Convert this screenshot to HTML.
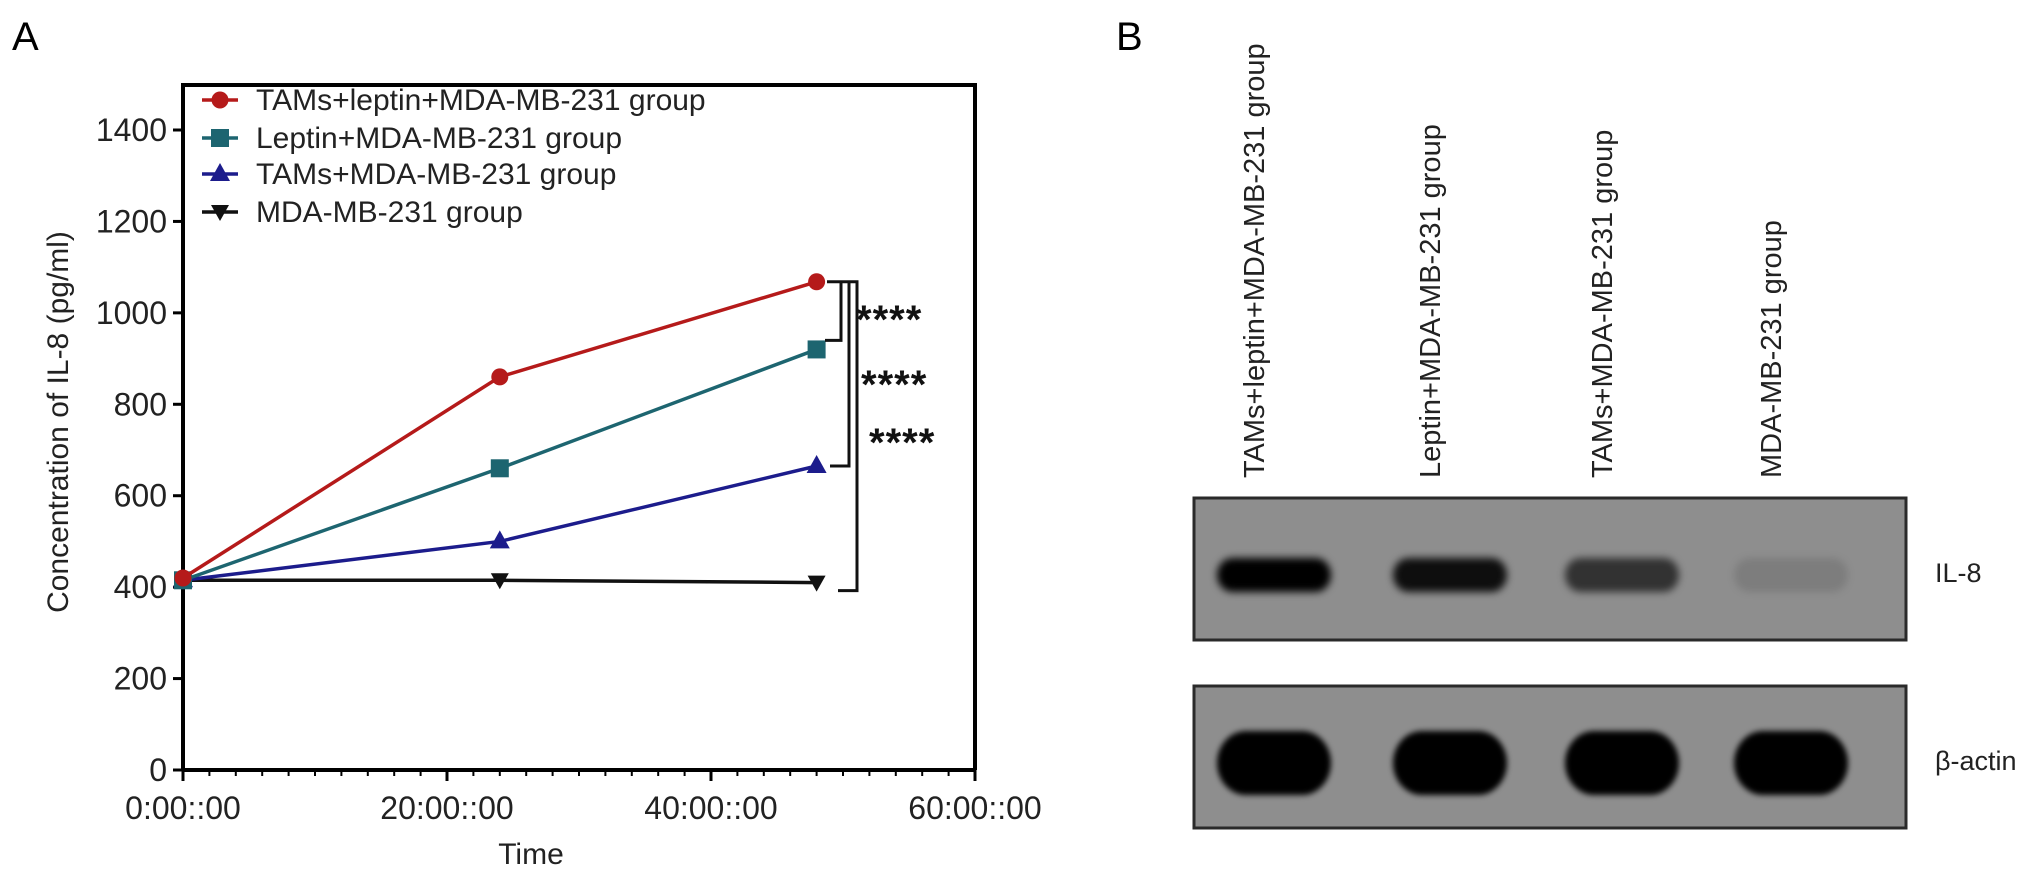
<!DOCTYPE html>
<html><head><meta charset="utf-8"><style>
html,body{margin:0;padding:0;background:#fff;}
svg{display:block;font-family:"Liberation Sans",Arial,sans-serif;}
</style></head><body>
<svg id="fig" width="2032" height="872" viewBox="0 0 2032 872" xmlns="http://www.w3.org/2000/svg">
<defs>
<filter id="blur" x="-30%" y="-60%" width="160%" height="220%"><feGaussianBlur stdDeviation="4"/></filter>
<filter id="blur2" x="-30%" y="-60%" width="160%" height="220%"><feGaussianBlur stdDeviation="3"/></filter>
</defs>
<text x="12" y="50" font-size="40">A</text>
<text x="1116" y="50" font-size="40">B</text>
<g id="chart"></g>
<g id="blot"></g>
</svg>
<script>
const times = [0, 24, 48];
const seriesNames = ["TAMs+leptin+MDA-MB-231 group","Leptin+MDA-MB-231 group","TAMs+MDA-MB-231 group","MDA-MB-231 group"];
const redVals = [420, 860, 1068];
const tealVals = [415, 660, 920];
const blueVals = [415, 500, 665];
const blackVals = [415, 415, 410];
const yTicks = [0, 200, 400, 600, 800, 1000, 1200, 1400];
const xTicks = [0, 20, 40, 60];
const xTickLabels = ["0:00::00","20:00::00","40:00::00","60:00::00"];
const laneLabels = ["TAMs+leptin+MDA-MB-231 group","Leptin+MDA-MB-231 group","TAMs+MDA-MB-231 group","MDA-MB-231 group"];
const il8Intensity = [1.0, 0.9, 0.65, 0.12];
const actinIntensity = [1.0, 1.0, 1.0, 1.0];

const NS = "http://www.w3.org/2000/svg";
function mk(tag, attrs, parent){const e=document.createElementNS(NS,tag);for(const k in attrs)e.setAttribute(k,attrs[k]);parent.appendChild(e);return e;}
const X0=183, X1=975, Y0=770, YT=85;
const xs = t => X0 + t/60*(X1-X0);
const ys = v => Y0 - v/1400*(Y0-130);
const g = document.getElementById('chart');

let fr = mk('path',{d:`M${X0},${Y0} L${X0},${YT} L${X1},${YT} L${X1},${Y0}`,fill:'none',stroke:'#000','stroke-width':4},g);


let xa = mk('line',{x1:X0,y1:Y0,x2:X1,y2:Y0,stroke:'#000','stroke-width':4},g);



yTicks.forEach(v=>{
  const y=ys(v);
  let t=mk('line',{x1:X0-10,y1:y,x2:X0,y2:y,stroke:'#000','stroke-width':3},g);
  
  
  let l=mk('text',{x:X0-16,y:y+11,'font-size':32,'text-anchor':'end',fill:'#222'},g);
  l.textContent=v;
  
  
});
for(let h=0;h<=60;h+=2){
  const major = h%20===0;
  let t=mk('line',{x1:xs(h),y1:Y0,x2:xs(h),y2:Y0+(major?11:6),stroke:'#000','stroke-width':major?3:2},g);
  
  
}
xTicks.forEach((h,i)=>{
  let l=mk('text',{x:xs(h),y:819,'font-size':32,'text-anchor':'middle',fill:'#222'},g);
  l.textContent=xTickLabels[i];
  
  
});
let xt=mk('text',{x:531,y:864,'font-size':30,'text-anchor':'middle',fill:'#222'},g);
xt.textContent='Time';


let yt=mk('text',{x:0,y:0,'font-size':30,'text-anchor':'middle',fill:'#222',transform:'translate(68,422) rotate(-90)'},g);
yt.textContent='Concentration of IL-8 (pg/ml)';



function marker(type,x,y,color,parent){
  let m;
  if(type==='circle') m=mk('circle',{cx:x,cy:y,r:8.5,fill:color},parent);
  else if(type==='square') m=mk('rect',{x:x-9,y:y-9,width:18,height:18,fill:color},parent);
  else if(type==='up') m=mk('polygon',{points:`${x},${y-11} ${x-10},${y+7} ${x+10},${y+7}`,fill:color},parent);
  else m=mk('polygon',{points:`${x},${y+9} ${x-9},${y-7} ${x+9},${y-7}`,fill:color},parent);
  return m;
}
const series=[
  {vals:blackVals,color:'#111',m:'down',name:'series-mda'},
  {vals:blueVals,color:'#1c1c8c',m:'up',name:'series-tams'},
  {vals:tealVals,color:'#1d6570',m:'square',name:'series-leptin'},
  {vals:redVals,color:'#b51a1a',m:'circle',name:'series-tams-leptin'}
];
series.forEach(s=>{
  const sg=mk('g',{},g);
  
  
  const pts=times.map((t,i)=>xs(t)+','+ys(s.vals[i])).join(' ');
  let pl=mk('polyline',{points:pts,fill:'none',stroke:s.color,'stroke-width':3.5},sg);
  
  
  times.forEach((t,i)=>{
    let m=marker(s.m,xs(t),ys(s.vals[i]),s.color,sg);
    
    
  });
});

const legColors=['#b51a1a','#1d6570','#1c1c8c','#111'];
const legMarks=['circle','square','up','down'];
const legY=[100,138,174,212];
seriesNames.forEach((n,i)=>{
  const lg=mk('g',{},g);
  
  
  mk('line',{x1:202,y1:legY[i],x2:238,y2:legY[i],stroke:legColors[i],'stroke-width':3.5},lg);
  marker(legMarks[i],220,legY[i],legColors[i],lg);
  const t=mk('text',{x:256,y:legY[i]+10,'font-size':30,fill:'#222'},lg);
  t.textContent=n;
});

const br=mk('g',{fill:'none',stroke:'#111','stroke-width':3},g);


const yR=ys(redVals[2]), yT=ys(tealVals[2]), yB=ys(blueVals[2]), yK=ys(blackVals[2]);
mk('path',{d:`M827,${yR} L857,${yR} L857,${yK+8} L838,${yK+8}`},br);
mk('path',{d:`M849,${yR} L849,${yB} L830,${yB}`},br);
mk('path',{d:`M841,${yR} L841,${yT-9} L825,${yT-9}`},br);
[[856,333],[861,398],[869,456]].forEach(p=>{
  const s=mk('text',{x:p[0],y:p[1],'font-size':40,'font-weight':'bold','letter-spacing':1,fill:'#111',stroke:'none'},g);
  s.textContent='****';
  
  
});

const b=document.getElementById('blot');
const laneX=[1274,1450,1622,1791];
laneLabels.forEach((n,i)=>{
  const t=mk('text',{x:0,y:0,'font-size':29,fill:'#222',transform:`translate(${laneX[i]-10},478) rotate(-90)`},b);
  t.textContent=n;
  
  
});
function panel(y,h,name,bands,bh,lbl){
  const pg=mk('g',{},b);
  
  
  mk('rect',{x:1194,y:y,width:712,height:h,fill:'#8e8e8e',stroke:'#2a2a2a','stroke-width':3},pg);
  bands.forEach((v,i)=>{
    const cy=y+h/2+(bh<40?6:6);
    const e=mk('rect',{x:laneX[i]-57,y:cy-bh/2,width:114,height:bh,rx:bh/2.2,ry:bh/2,fill:'#050505','fill-opacity':v,filter:bh<40?'url(#blur)':'url(#blur2)'},pg);
    
    
  });
  const t=mk('text',{x:1935,y:y+h/2+13,'font-size':27,fill:'#222'},pg);
  t.textContent=lbl;
}
panel(498,142,'il8-blot',il8Intensity,34,'IL-8');
panel(686,142,'actin-blot',actinIntensity,64,'β-actin');
</script>
</body></html>
